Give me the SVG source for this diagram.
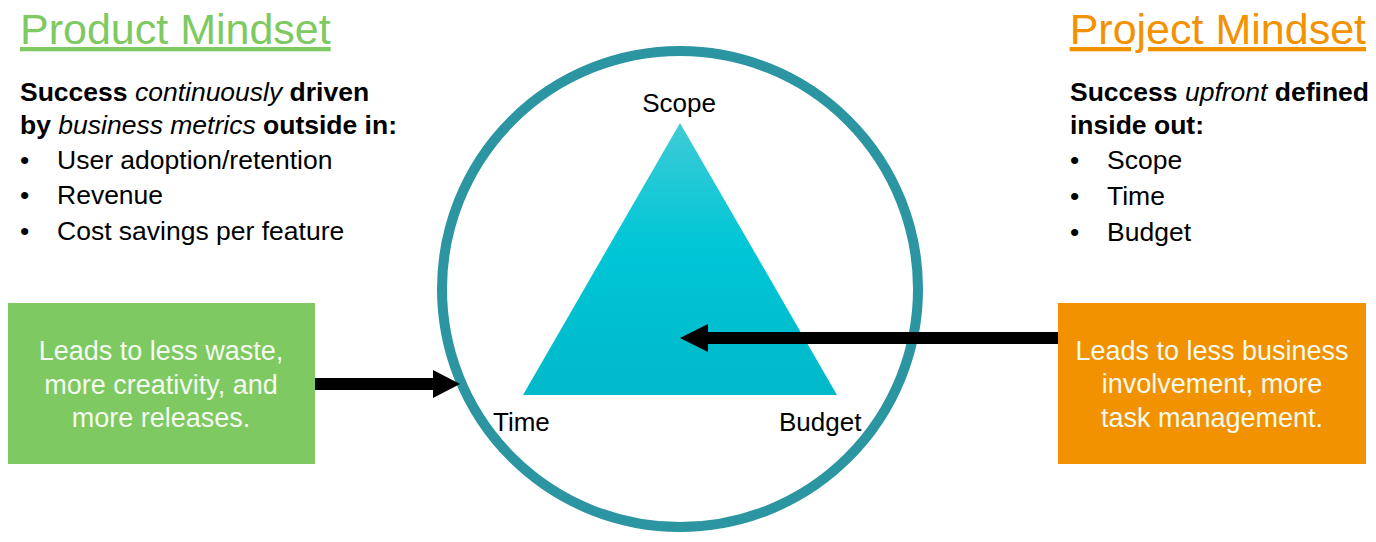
<svg xmlns="http://www.w3.org/2000/svg" width="1376" height="542" viewBox="0 0 1376 542">
  <defs>
    <linearGradient id="triFill" x1="0" y1="0" x2="0" y2="1">
      <stop offset="0" stop-color="#3fcbd6"/>
      <stop offset="0.45" stop-color="#00c6d6"/>
      <stop offset="1" stop-color="#00b9ca"/>
    </linearGradient>
  </defs>
  <style>
    text { font-family: "Liberation Sans", Arial, sans-serif; fill: #000; }
    .title { font-size: 43px; text-decoration: underline; }
    .lead { font-size: 26.5px; font-weight: bold; }
    .lead tspan.em { font-style: italic; font-weight: normal; }
    .item { font-size: 26.5px; }
    .corner { font-size: 26px; }
    .boxtext { font-size: 27px; fill: #f4faef; text-anchor: middle; }
    .conn { fill: #000; stroke: none; }
  </style>
  <rect width="1376" height="542" fill="#fff"/>

  <!-- left column: product mindset -->
  <g id="product-heading">
    <text class="title" x="20" y="44" style="fill:#7ec962">Product Mindset</text>
    <text class="lead" x="20" y="101">Success <tspan class="em">continuously</tspan> driven</text>
    <text class="lead" x="20" y="134">by <tspan class="em">business metrics</tspan> outside in:</text>
    <text class="item" x="20" y="169">•</text>
    <text class="item" x="57" y="169">User adoption/retention</text>
    <text class="item" x="20" y="204">•</text>
    <text class="item" x="57" y="204">Revenue</text>
    <text class="item" x="20" y="240">•</text>
    <text class="item" x="57" y="240">Cost savings per feature</text>
  </g>

  <!-- right column: project mindset -->
  <g id="project-heading">
    <text class="title" x="1366" y="44" text-anchor="end" style="fill:#f39200">Project Mindset</text>
    <text class="lead" x="1070" y="101">Success <tspan class="em">upfront</tspan> defined</text>
    <text class="lead" x="1070" y="134">inside out:</text>
    <text class="item" x="1070" y="169">•</text>
    <text class="item" x="1107" y="169">Scope</text>
    <text class="item" x="1070" y="205">•</text>
    <text class="item" x="1107" y="205">Time</text>
    <text class="item" x="1070" y="241">•</text>
    <text class="item" x="1107" y="241">Budget</text>
  </g>

  <!-- iron triangle inside the boundary circle -->
  <g id="triangle-circle">
    <circle cx="680" cy="289" r="238" fill="none" stroke="#2b95a1" stroke-width="10"/>
    <polygon points="680,123 523,395 837,395" fill="url(#triFill)"/>
    <text class="corner" x="679" y="112" text-anchor="middle">Scope</text>
    <text class="corner" x="493" y="431">Time</text>
    <text class="corner" x="779" y="431">Budget</text>
  </g>

  <g id="product-outcome">
    <rect x="8" y="303" width="307" height="161" fill="#7ec962"/>
    <text class="boxtext" x="161" y="360">Leads to less waste,</text>
    <text class="boxtext" x="161" y="394">more creativity, and</text>
    <text class="boxtext" x="161" y="427">more releases.</text>
  </g>

  <g id="project-outcome">
    <rect x="1058" y="303" width="308" height="161" fill="#f39200"/>
    <text class="boxtext" x="1212" y="360">Leads to less business</text>
    <text class="boxtext" x="1212" y="393">involvement, more</text>
    <text class="boxtext" x="1212" y="427">task management.</text>
  </g>

  <!-- connectors: block arrows (shaft + head) -->
  <g id="connectors">
    <path class="conn" d="M315,378 H433 V370 L460,384 L433,398 V390 H315 Z"/>
    <path class="conn" d="M1058,332 H708 V324 L680,338 L708,352 V344 H1058 Z"/>
  </g>
</svg>
